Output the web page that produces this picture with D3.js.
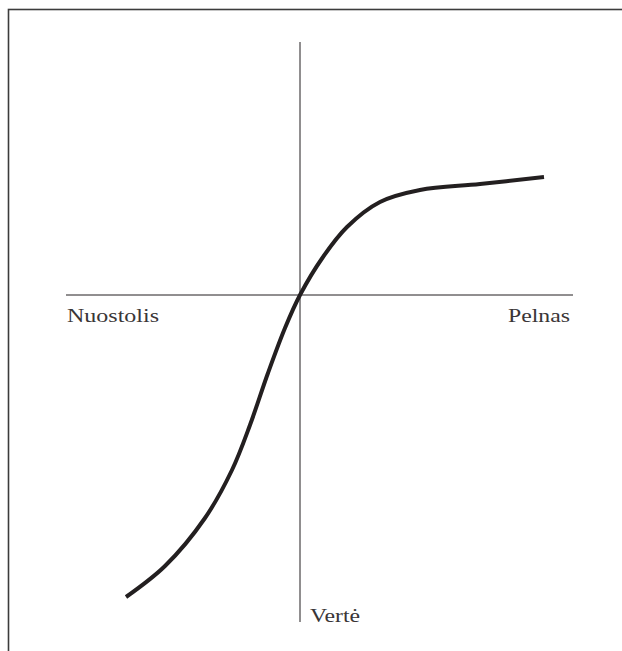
<!DOCTYPE html>
<html>
<head>
<meta charset="utf-8">
<script src="https://cdn.jsdelivr.net/npm/d3@7"></script>
<style>
  body { margin: 0; background: #fff; }
  svg { display: block; }
  .lbl { font-family: "Liberation Serif", "Times New Roman", serif; font-size: 19px; fill: #3a3637; }
</style>
</head>
<body>
<div id="chart"></div>
<script>
// value function: outcome (loss < 0 < gain) vs. value
var outcome = [-34.8, -27, -19, -13.6, -10, -6.4, -3, 0, 4.6, 9.4, 16, 24, 36, 48.8];
var value   = [-60.4, -54.2, -44.6, -35, -26, -15.6, -6.6, 0, 7.6, 13.6, 18.6, 21, 22.2, 23.6];

var xDomain = [-46.8, 54.6];   // horizontal axis extent
var yDomain = [-65.4, 50.6];   // vertical axis extent

var lossLabel = "Nuostolis",
    gainLabel = "Pelnas",
    valueLabel = "Vertė";

var width = 622, height = 651;

var svg = d3.select("#chart").append("svg")
    .attr("width", width)
    .attr("height", height);

// outer frame (runs off the bottom/right edge)
svg.append("rect")
    .attr("x", 8.5).attr("y", 9.5)
    .attr("width", 700).attr("height", 700)
    .attr("fill", "none")
    .attr("stroke", "#3c3c3c")
    .attr("stroke-width", 1.6);

var x = d3.scaleLinear().domain(xDomain).range([66, 573]);
var y = d3.scaleLinear().domain(yDomain).range([622, 42]);

// axes through the origin
svg.append("line")
    .attr("x1", x(xDomain[0])).attr("x2", x(xDomain[1]))
    .attr("y1", y(0)).attr("y2", y(0))
    .attr("stroke", "#231f20").attr("stroke-width", 1);

svg.append("line")
    .attr("x1", x(0)).attr("x2", x(0))
    .attr("y1", y(yDomain[0])).attr("y2", y(yDomain[1]))
    .attr("stroke", "#231f20").attr("stroke-width", 1);

// the curve
var pts = outcome.map(function(d, i) { return [d, value[i]]; });

var line = d3.line()
    .x(function(d) { return x(d[0]); })
    .y(function(d) { return y(d[1]); })
    .curve(d3.curveCatmullRom.alpha(0.5));

svg.append("path")
    .datum(pts)
    .attr("d", line)
    .attr("fill", "none")
    .attr("stroke", "#231f20")
    .attr("stroke-width", 4);

// labels
svg.append("text").attr("class", "lbl")
    .attr("x", x(xDomain[0]) + 1).attr("y", y(0) + 27)
    .attr("textLength", 92).attr("lengthAdjust", "spacingAndGlyphs")
    .text(lossLabel);

svg.append("text").attr("class", "lbl")
    .attr("x", x(xDomain[1]) - 65).attr("y", y(0) + 27)
    .attr("textLength", 62).attr("lengthAdjust", "spacingAndGlyphs")
    .text(gainLabel);

svg.append("text").attr("class", "lbl")
    .attr("x", x(0) + 10).attr("y", y(yDomain[0]))
    .attr("textLength", 50).attr("lengthAdjust", "spacingAndGlyphs")
    .text(valueLabel);
</script>
</body>
</html>
